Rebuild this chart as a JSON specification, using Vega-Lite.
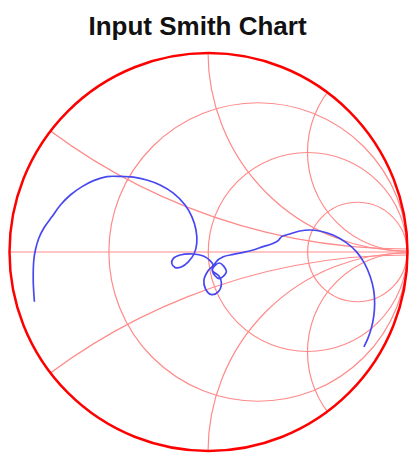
{
  "$schema": "https://vega.github.io/schema/vega-lite/v6.json",
  "width": 397,
  "height": 400,
  "autosize": {"type": "none"},
  "padding": {"left": 10, "top": 52, "right": 2, "bottom": 1},
  "background": "white",
  "title": {"text": "Input Smith Chart", "font": "Liberation Sans", "fontSize": 26, "fontWeight": "bold", "color": "#111111", "anchor": "middle", "offset": 8, "dx": -11},
  "config": {"view": {"stroke": null}},
  "datasets": {
    "grid": [
      {"kind": "r", "value": "1/3", "cx": 0.25, "cy": 0, "rad": 0.75},
      {"kind": "r", "value": "1", "cx": 0.5, "cy": 0, "rad": 0.5},
      {"kind": "r", "value": "3", "cx": 0.75, "cy": 0, "rad": 0.25},
      {"kind": "x", "value": "1/3", "cx": 1, "cy": 3, "rad": 3},
      {"kind": "x", "value": "-1/3", "cx": 1, "cy": -3, "rad": 3},
      {"kind": "x", "value": "1", "cx": 1, "cy": 1, "rad": 1},
      {"kind": "x", "value": "-1", "cx": 1, "cy": -1, "rad": 1},
      {"kind": "x", "value": "2", "cx": 1, "cy": 0.5, "rad": 0.5},
      {"kind": "x", "value": "-2", "cx": 1, "cy": -0.5, "rad": 0.5}
    ],
    "trace": [
      {"i": 1, "gx": -0.877, "gy": -0.249},
      {"i": 2, "gx": -0.883, "gy": -0.140},
      {"i": 3, "gx": -0.880, "gy": -0.040},
      {"i": 4, "gx": -0.872, "gy": 0.010},
      {"i": 5, "gx": -0.855, "gy": 0.069},
      {"i": 6, "gx": -0.830, "gy": 0.119},
      {"i": 7, "gx": -0.788, "gy": 0.177},
      {"i": 8, "gx": -0.746, "gy": 0.235},
      {"i": 9, "gx": -0.696, "gy": 0.285},
      {"i": 10, "gx": -0.637, "gy": 0.327},
      {"i": 11, "gx": -0.579, "gy": 0.357},
      {"i": 12, "gx": -0.512, "gy": 0.377},
      {"i": 13, "gx": -0.445, "gy": 0.378},
      {"i": 14, "gx": -0.378, "gy": 0.374},
      {"i": 15, "gx": -0.311, "gy": 0.360},
      {"i": 16, "gx": -0.244, "gy": 0.335},
      {"i": 17, "gx": -0.177, "gy": 0.294},
      {"i": 18, "gx": -0.118, "gy": 0.235},
      {"i": 19, "gx": -0.084, "gy": 0.177},
      {"i": 20, "gx": -0.063, "gy": 0.110},
      {"i": 21, "gx": -0.059, "gy": 0.044},
      {"i": 22, "gx": -0.073, "gy": -0.010},
      {"i": 23, "gx": -0.102, "gy": -0.049},
      {"i": 24, "gx": -0.135, "gy": -0.074},
      {"i": 25, "gx": -0.168, "gy": -0.078},
      {"i": 26, "gx": -0.185, "gy": -0.057},
      {"i": 27, "gx": -0.177, "gy": -0.032},
      {"i": 28, "gx": -0.143, "gy": -0.015},
      {"i": 29, "gx": -0.076, "gy": -0.010},
      {"i": 30, "gx": -0.026, "gy": -0.020},
      {"i": 31, "gx": 0.008, "gy": -0.043},
      {"i": 32, "gx": 0.023, "gy": -0.065},
      {"i": 33, "gx": -0.003, "gy": -0.095},
      {"i": 34, "gx": -0.023, "gy": -0.140},
      {"i": 35, "gx": -0.015, "gy": -0.185},
      {"i": 36, "gx": 0.015, "gy": -0.213},
      {"i": 37, "gx": 0.050, "gy": -0.198},
      {"i": 38, "gx": 0.065, "gy": -0.155},
      {"i": 39, "gx": 0.053, "gy": -0.120},
      {"i": 40, "gx": 0.018, "gy": -0.090},
      {"i": 41, "gx": 0.055, "gy": -0.055},
      {"i": 42, "gx": 0.090, "gy": -0.098},
      {"i": 43, "gx": 0.053, "gy": -0.133},
      {"i": 44, "gx": 0.020, "gy": -0.095},
      {"i": 45, "gx": 0.038, "gy": -0.050},
      {"i": 46, "gx": 0.074, "gy": -0.024},
      {"i": 47, "gx": 0.125, "gy": -0.012},
      {"i": 48, "gx": 0.175, "gy": -0.002},
      {"i": 49, "gx": 0.225, "gy": 0.010},
      {"i": 50, "gx": 0.275, "gy": 0.027},
      {"i": 51, "gx": 0.318, "gy": 0.040},
      {"i": 52, "gx": 0.351, "gy": 0.057},
      {"i": 53, "gx": 0.368, "gy": 0.077},
      {"i": 54, "gx": 0.410, "gy": 0.090},
      {"i": 55, "gx": 0.460, "gy": 0.105},
      {"i": 56, "gx": 0.510, "gy": 0.110},
      {"i": 57, "gx": 0.560, "gy": 0.105},
      {"i": 58, "gx": 0.627, "gy": 0.085},
      {"i": 59, "gx": 0.694, "gy": 0.047},
      {"i": 60, "gx": 0.745, "gy": 0.002},
      {"i": 61, "gx": 0.786, "gy": -0.057},
      {"i": 62, "gx": 0.815, "gy": -0.124},
      {"i": 63, "gx": 0.832, "gy": -0.190},
      {"i": 64, "gx": 0.837, "gy": -0.257},
      {"i": 65, "gx": 0.832, "gy": -0.324},
      {"i": 66, "gx": 0.820, "gy": -0.382},
      {"i": 67, "gx": 0.803, "gy": -0.432},
      {"i": 68, "gx": 0.783, "gy": -0.474}
    ]
  },
  "layer": [
    {
      "data": {"name": "grid"},
      "mark": {"type": "point", "shape": "circle", "filled": false, "clip": true, "color": "#ff8a8a", "strokeWidth": 1.2, "opacity": 1},
      "encoding": {
        "x": {"field": "cx", "type": "quantitative", "scale": {"domain": [-1, 1], "nice": false, "zero": false}, "axis": null},
        "y": {"field": "cy", "type": "quantitative", "scale": {"domain": [-1, 1], "nice": false, "zero": false}, "axis": null},
        "size": {"field": "rad", "type": "quantitative", "scale": {"type": "pow", "exponent": 2, "domain": [0, 1], "range": [0, 158404]}, "legend": null}
      }
    },
    {
      "data": {"values": [{"cx": 0, "cy": 0}]},
      "mark": {"type": "point", "shape": "circle", "filled": false, "clip": true, "color": "white", "strokeWidth": 120, "size": 268324, "opacity": 1},
      "encoding": {
        "x": {"field": "cx", "type": "quantitative", "axis": null},
        "y": {"field": "cy", "type": "quantitative", "axis": null}
      }
    },
    {
      "data": {"values": [{"x1": -1, "x2": 1, "y0": 0}]},
      "mark": {"type": "rule", "color": "#ff8a8a", "strokeWidth": 1.2},
      "encoding": {
        "x": {"field": "x1", "type": "quantitative", "axis": null},
        "x2": {"field": "x2"},
        "y": {"field": "y0", "type": "quantitative", "axis": null}
      }
    },
    {
      "data": {"values": [{"cx": 0, "cy": 0, "rad": 1}]},
      "mark": {"type": "point", "shape": "circle", "filled": false, "color": "#ff0000", "strokeWidth": 2.5, "opacity": 1},
      "encoding": {
        "x": {"field": "cx", "type": "quantitative", "axis": null},
        "y": {"field": "cy", "type": "quantitative", "axis": null},
        "size": {"field": "rad", "type": "quantitative", "legend": null}
      }
    },
    {
      "data": {"name": "trace"},
      "mark": {"type": "line", "color": "#4848f0", "strokeWidth": 1.7, "interpolate": "catmull-rom"},
      "encoding": {
        "x": {"field": "gx", "type": "quantitative", "axis": null},
        "y": {"field": "gy", "type": "quantitative", "axis": null},
        "order": {"field": "i", "type": "quantitative"}
      }
    }
  ]
}
